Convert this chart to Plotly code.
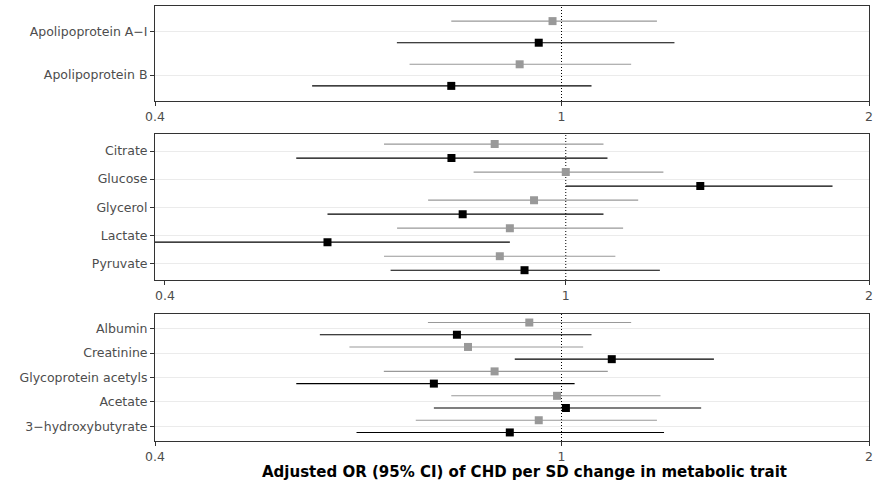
import math
import plotly.graph_objects as go

# ---------------- data ----------------
p1_traits = ["Apolipoprotein A−I", "Apolipoprotein B"]
p1_grey_or = [0.98, 0.91]
p1_grey_lo = [0.78, 0.71]
p1_grey_hi = [1.24, 1.17]
p1_black_or = [0.95, 0.78]
p1_black_lo = [0.69, 0.57]
p1_black_hi = [1.29, 1.07]

p2_traits = ["Citrate", "Glucose", "Glycerol", "Lactate", "Pyruvate"]
p2_grey_or = [0.85, 1.00, 0.93, 0.88, 0.86]
p2_grey_lo = [0.66, 0.81, 0.73, 0.68, 0.66]
p2_grey_hi = [1.09, 1.25, 1.18, 1.14, 1.12]
p2_black_or = [0.77, 1.36, 0.79, 0.58, 0.91]
p2_black_lo = [0.54, 1.00, 0.58, 0.38, 0.67]
p2_black_hi = [1.10, 1.84, 1.09, 0.88, 1.24]

p3_traits = ["Albumin", "Creatinine", "Glycoprotein acetyls", "Acetate", "3−hydroxybutyrate"]
p3_grey_or = [0.93, 0.81, 0.86, 0.99, 0.95]
p3_grey_lo = [0.74, 0.62, 0.67, 0.78, 0.72]
p3_grey_hi = [1.17, 1.05, 1.11, 1.25, 1.24]
p3_black_or = [0.79, 1.12, 0.75, 1.01, 0.89]
p3_black_lo = [0.58, 0.90, 0.55, 0.75, 0.63]
p3_black_hi = [1.07, 1.41, 1.03, 1.37, 1.26]

x_ticks = [0.4, 1, 2]
x_ticklabels = ["0.4", "1", "2"]
x_title = "Adjusted OR (95% CI) of CHD per SD change in metabolic trait"

GREY = "#999999"
BLACK = "#000000"
FONT = "DejaVu Sans, Liberation Sans, Arial, sans-serif"

panels = [
    (p1_traits, (p1_grey_or, p1_grey_lo, p1_grey_hi), (p1_black_or, p1_black_lo, p1_black_hi),
     [0.7816, 1.0], [0.4, 2.0]),
    (p2_traits, (p2_grey_or, p2_grey_lo, p2_grey_hi), (p2_black_or, p2_black_lo, p2_black_hi),
     [0.3701, 0.7051], [0.391, 2.0]),
    (p3_traits, (p3_grey_or, p3_grey_lo, p3_grey_hi), (p3_black_or, p3_black_lo, p3_black_hi),
     [0.0, 0.2920], [0.4, 2.0]),
]

fig = go.Figure()
layout = {}
for k, (traits, grey, black, ydom, xr) in enumerate(panels, start=1):
    n = len(traits)
    ypos = [n - i for i in range(n)]  # first trait on top
    xa = "x" if k == 1 else f"x{k}"
    ya = "y" if k == 1 else f"y{k}"
    ylo, yhi = 0.4, n + 0.6
    # reference line at OR=1
    fig.add_trace(go.Scatter(x=[1, 1], y=[ylo, yhi], mode="lines",
                             line=dict(color="black", width=1, dash="1px,2px"),
                             xaxis=xa, yaxis=ya, showlegend=False, hoverinfo="skip"))
    for (orv, lo, hi), col, off in [(grey, GREY, 0.25), (black, BLACK, -0.25)]:
        xs, ys = [], []
        for j in range(n):
            xs += [lo[j], hi[j], None]
            ys += [ypos[j] + off, ypos[j] + off, None]
        fig.add_trace(go.Scatter(x=xs, y=ys, mode="lines", line=dict(color=col, width=1.1),
                                 xaxis=xa, yaxis=ya, showlegend=False, hoverinfo="skip"))
        fig.add_trace(go.Scatter(x=orv, y=[p + off for p in ypos], mode="markers",
                                 marker=dict(symbol="square", size=8, color=col, line=dict(width=0)),
                                 xaxis=xa, yaxis=ya, showlegend=False))
    xkey = "xaxis" if k == 1 else f"xaxis{k}"
    ykey = "yaxis" if k == 1 else f"yaxis{k}"
    layout[xkey] = dict(type="log", range=[math.log10(xr[0]), math.log10(xr[1])],
                        anchor=ya, domain=[0, 1],
                        tickvals=x_ticks, ticktext=x_ticklabels, showgrid=False, zeroline=False,
                        showline=True, mirror=True, linecolor="#333333", linewidth=1,
                        ticks="outside", ticklen=4, tickcolor="#333333", tickwidth=1,
                        tickfont=dict(family=FONT, size=12.5, color="#4d4d4d"))
    layout[ykey] = dict(range=[ylo, yhi], domain=ydom, anchor=xa,
                        tickvals=ypos, ticktext=traits, showgrid=True, gridcolor="#ebebeb",
                        gridwidth=1, zeroline=False,
                        showline=True, mirror=True, linecolor="#333333", linewidth=1,
                        ticks="outside", ticklen=4, tickcolor="#333333", tickwidth=1,
                        tickfont=dict(family=FONT, size=12.5, color="#4d4d4d"))

fig.update_layout(**layout)
fig.update_layout(
    width=888, height=483,
    margin=dict(l=155, r=19, t=6, b=42),
    paper_bgcolor="white", plot_bgcolor="white",
    showlegend=False,
    annotations=[dict(text=f"<b>{x_title}</b>", x=0.517, y=-0.072, xref="paper", yref="paper",
                      xanchor="center", yanchor="middle", showarrow=False,
                      font=dict(family=FONT, size=15, color="black"))],
)
fig.write_html("out.html", config={"displayModeBar": False},
               post_script="document.body.style.margin='0';document.body.style.padding='0';")
